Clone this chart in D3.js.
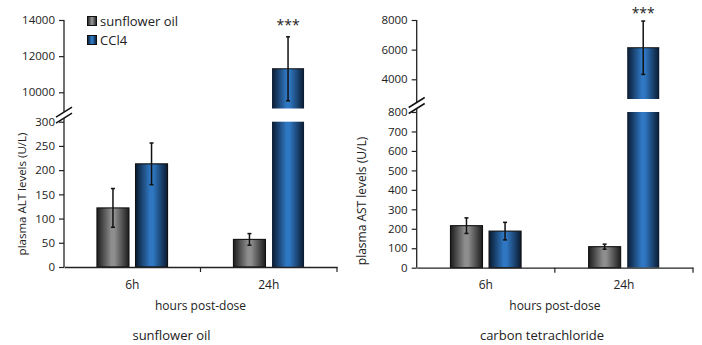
<!DOCTYPE html>
<html>
<head>
<meta charset="utf-8">
<script src="https://cdn.jsdelivr.net/npm/d3@7"></script>
<style>
  html, body { margin: 0; padding: 0; background: #fff; }
  svg text { font-family: "Open Sans", "Noto Sans", sans-serif; fill: #222; }
</style>
</head>
<body>
<svg id="chart" width="702" height="345"></svg>
<script>
// ---------- DATA ----------
const categories = ["6h", "24h"];
const seriesNames = ["sunflower oil", "CCl4"];

const altSunflowerMean = [122, 57];
const altSunflowerErr  = [40, 12];
const altCcl4Mean      = [213, 11300];
const altCcl4Err       = [43, 1770];

const astSunflowerMean = [216, 108];
const astSunflowerErr  = [40, 13];
const astCcl4Mean      = [188, 6130];
const astCcl4Err       = [45, 1800];

const altLowerTicks = [0, 50, 100, 150, 200, 250, 300];
const altUpperTicks = [10000, 12000, 14000];
const astLowerTicks = [0, 100, 200, 300, 400, 500, 600, 700, 800];
const astUpperTicks = [4000, 6000, 8000];

const panelTitles = ["sunflower oil", "carbon tetrachloride"];
const yLabels = ["plasma ALT levels (U/L)", "plasma AST levels (U/L)"];
const xLabel = "hours post-dose";
const sigMark = "***";

// ---------- DRAW ----------
const svg = d3.select("#chart");
const defs = svg.append("defs");

function grad(id, edge, mid) {
  const g = defs.append("linearGradient").attr("id", id)
    .attr("x1", "0%").attr("x2", "100%").attr("y1", "0%").attr("y2", "0%");
  g.append("stop").attr("offset", "0%").attr("stop-color", edge);
  g.append("stop").attr("offset", "45%").attr("stop-color", mid);
  g.append("stop").attr("offset", "55%").attr("stop-color", mid);
  g.append("stop").attr("offset", "100%").attr("stop-color", edge);
}
grad("gGray", "#1c1c1c", "#8e8e8e");
grad("gBlue", "#0a1a30", "#2f77c2");
const fills = ["url(#gGray)", "url(#gBlue)"];

const panels = [
  {
    x0: 64, x1: 337,
    lowerTicks: altLowerTicks, upperTicks: altUpperTicks,
    lowerDomain: [0, 300], lowerRange: [267, 121.7],
    upperDomain: [10000, 14000], upperRange: [92.3, 20],
    breakPx: 108.5, starGap: 15,
    series: [
      { mean: altSunflowerMean, err: altSunflowerErr },
      { mean: altCcl4Mean, err: altCcl4Err }
    ],
    yLabel: yLabels[0], yLabelX: 26, yLabelY: 194, yLabelSize: 11.5,
    title: panelTitles[0], titleX: 171.5, legend: true
  },
  {
    x0: 416.7, x1: 693,
    lowerTicks: astLowerTicks, upperTicks: astUpperTicks,
    lowerDomain: [0, 800], lowerRange: [267.7, 112],
    upperDomain: [4000, 8000], upperRange: [79.3, 20],
    breakPx: 99, starGap: 11.5,
    series: [
      { mean: astSunflowerMean, err: astSunflowerErr },
      { mean: astCcl4Mean, err: astCcl4Err }
    ],
    yLabel: yLabels[1], yLabelX: 366, yLabelY: 201, yLabelSize: 12,
    title: panelTitles[1], titleX: 542, legend: false
  }
];

panels.forEach(p => {
  const g = svg.append("g");
  const yLow = d3.scaleLinear().domain(p.lowerDomain).range(p.lowerRange);
  const yUp = d3.scaleLinear().domain(p.upperDomain).range(p.upperRange);
  const lowMax = p.lowerDomain[1];
  const x = d3.scaleBand().domain(categories).range([p.x0, p.x1]).padding(0);
  const xs = d3.scaleBand().domain(seriesNames).range([-35.3, 35.3]).paddingInner(0.17);
  const bw = xs.bandwidth();

  // bars
  p.series.forEach((s, si) => {
    categories.forEach((c, ci) => {
      const v = s.mean[ci];
      const e = s.err[ci];
      const cx = x(c) + x.bandwidth() / 2 + xs(seriesNames[si]);
      const style = sel => sel.attr("fill", fills[si]).attr("stroke", "#111").attr("stroke-width", 1.1);
      let yTopErr, yBotErr;
      if (v <= lowMax) {
        g.append("rect").attr("x", cx).attr("width", bw)
          .attr("y", yLow(v)).attr("height", yLow(0) - yLow(v)).call(style);
        yTopErr = yLow(v + e); yBotErr = yLow(v - e);
      } else {
        g.append("rect").attr("x", cx).attr("width", bw)
          .attr("y", yLow(lowMax)).attr("height", yLow(0) - yLow(lowMax)).call(style)
          .attr("stroke", "none");
        g.append("rect").attr("x", cx).attr("width", bw)
          .attr("y", yUp(v)).attr("height", p.breakPx - yUp(v)).call(style)
          .attr("stroke", "none");
        g.append("line").attr("x1", cx).attr("x2", cx + bw).attr("y1", yUp(v)).attr("y2", yUp(v))
          .attr("stroke", "#111").attr("stroke-width", 1.1);
        yTopErr = yUp(v + e); yBotErr = yUp(v - e);
        g.append("text").attr("x", cx + bw / 2).attr("y", yTopErr - p.starGap + 8)
          .attr("text-anchor", "middle").attr("font-size", 14).text(sigMark);
      }
      const ex = cx + bw / 2;
      g.append("line").attr("x1", ex).attr("x2", ex).attr("y1", yTopErr).attr("y2", yBotErr)
        .attr("stroke", "#111").attr("stroke-width", 1.5);
      [yTopErr, yBotErr].forEach(yy => {
        g.append("line").attr("x1", ex - 2).attr("x2", ex + 2).attr("y1", yy).attr("y2", yy)
          .attr("stroke", "#111").attr("stroke-width", 1.5);
      });
    });
  });

  // y axes
  const fmt = d3.format("d");
  const axLow = g.append("g").attr("transform", `translate(${p.x0},0)`)
    .call(d3.axisLeft(yLow).tickValues(p.lowerTicks).tickFormat(fmt).tickSize(5).tickPadding(4).tickSizeOuter(0));
  const axUp = g.append("g").attr("transform", `translate(${p.x0},0)`)
    .call(d3.axisLeft(yUp).tickValues(p.upperTicks).tickFormat(fmt).tickSize(5).tickPadding(4).tickSizeOuter(0));
  [axLow, axUp].forEach(a => {
    a.select(".domain").remove();
    a.selectAll("line").attr("stroke", "#222").attr("stroke-width", 1.2);
    a.selectAll("text").attr("font-size", 11.5).attr("fill", "#222")
      .style("font-family", '"Open Sans", sans-serif');
  });
  g.append("line").attr("x1", p.x0).attr("x2", p.x0)
    .attr("y1", p.upperRange[1]).attr("y2", p.lowerRange[0])
    .attr("stroke", "#222").attr("stroke-width", 1.3);
  const bm = (p.breakPx + p.lowerRange[1]) / 2;
  g.append("rect").attr("x", p.x0 - 2).attr("y", bm - 3).attr("width", 4).attr("height", 6).attr("fill", "#fff");
  [-3, 3].forEach(d => {
    g.append("line")
      .attr("x1", p.x0 - 8).attr("y1", bm + d + 5)
      .attr("x2", p.x0 + 8).attr("y2", bm + d - 5)
      .attr("stroke", "#111").attr("stroke-width", 1.5);
  });

  // x axis
  const xa = g.append("g").attr("transform", `translate(0,${p.lowerRange[0]})`)
    .call(d3.axisBottom(x).tickSize(0).tickPadding(13));
  xa.select(".domain").attr("stroke", "#222").attr("stroke-width", 1.3);
  xa.selectAll("text").attr("font-size", 12).attr("fill", "#222")
    .style("font-family", '"Open Sans", sans-serif');
  [p.x0 + (p.x1 - p.x0) / 2, p.x1].forEach(tx => {
    g.append("line").attr("x1", tx).attr("x2", tx)
      .attr("y1", p.lowerRange[0]).attr("y2", p.lowerRange[0] + 5)
      .attr("stroke", "#222").attr("stroke-width", 1.2);
  });

  // labels
  const xc = (p.x0 + p.x1) / 2;
  g.append("text").attr("x", xc).attr("y", 310).attr("text-anchor", "middle")
    .attr("font-size", 12).text(xLabel);
  g.append("text").attr("x", p.titleX).attr("y", 340).attr("text-anchor", "middle")
    .attr("font-size", 13).text(p.title);
  g.append("text")
    .attr("transform", `translate(${p.yLabelX},${p.yLabelY}) rotate(-90)`)
    .attr("text-anchor", "middle").attr("font-size", p.yLabelSize).text(p.yLabel);

  if (p.legend) {
    seriesNames.forEach((n, i) => {
      const ly = 21 + i * 19;
      g.append("rect").attr("x", 87.5).attr("y", ly - 4.5).attr("width", 9).attr("height", 9)
        .attr("fill", fills[i]).attr("stroke", "#111").attr("stroke-width", 1);
      g.append("text").attr("x", 100).attr("y", ly + 4.5).attr("font-size", 13).text(n);
    });
  }
});
</script>
</body>
</html>
